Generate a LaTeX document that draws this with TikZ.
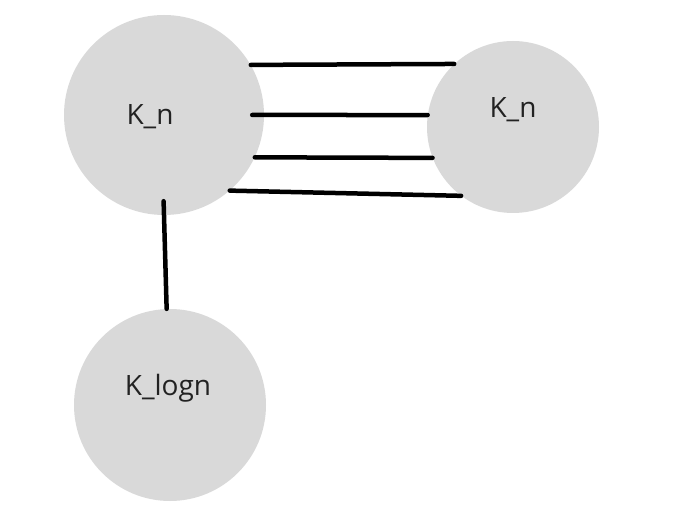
\documentclass[tikz,border=0pt]{standalone}
\usepackage{fontspec}
\setmainfont{Open Sans}
\usetikzlibrary{positioning}
\definecolor{blobgray}{HTML}{D9D9D9}
\definecolor{txtgray}{HTML}{222222}

\begin{document}
\begin{tikzpicture}[x=1pt, y=-1pt,
  blob/.style={circle, fill=blobgray, inner sep=0pt},
  lbl/.style={font=\fontsize{28}{34}\selectfont, text=txtgray, inner sep=0pt},
  link/.style={line width=4.5pt, line cap=round}
]
\useasboundingbox (0,0) rectangle (694,521);

\node[blob, minimum size=200pt] (kn) at (164,115) {};
\node[blob, minimum size=172pt] (knr) at (513,127) {};
\node[blob, minimum size=192pt] (klog) at (170,405) {};

\node[lbl] (kntxt) at ([xshift=-14pt, yshift=-2pt]kn.center) {K\_n};
\node[lbl] (knrtxt) at ([yshift=17pt]knr.center) {K\_n};
\node[lbl] (klogtxt) at ([xshift=-2pt, yshift=17pt]klog.center) {K\_logn};

\draw[link] (kn.30) -- (knr.133);
\draw[link, shorten <=-12pt] (kn.0) -- (knr.172);
\draw[link] (kn.-25) -- (knr.-159);
\draw[link] (kn.-49) -- (knr.-127);

\draw[link, shorten <=-14pt] (kn.-90) -- (klog.92);
\end{tikzpicture}
\end{document}
